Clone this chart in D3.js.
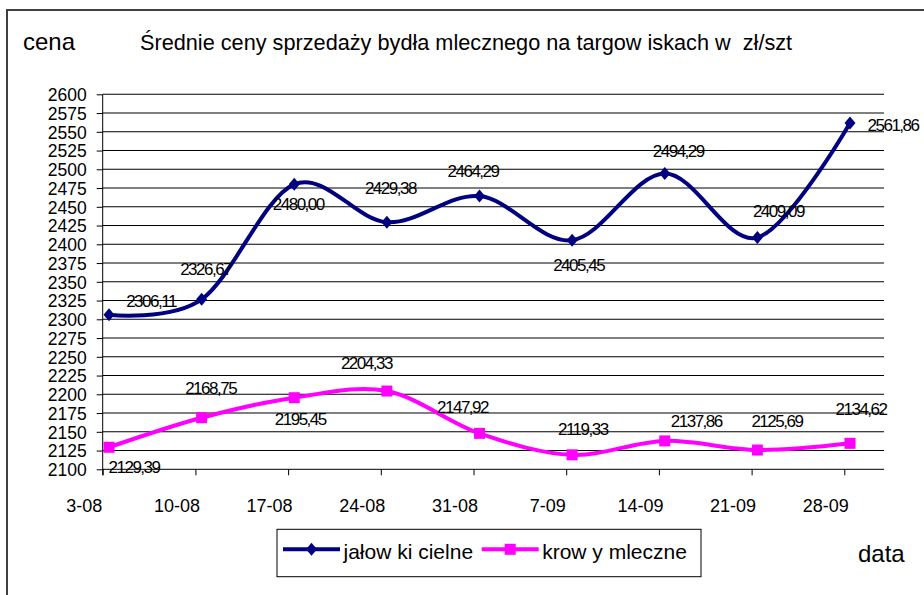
<!DOCTYPE html>
<html>
<head>
<meta charset="utf-8">
<script src="https://cdn.jsdelivr.net/npm/d3@7"></script>
<style>
	body { margin: 0; background: #fff; }
	svg { display: block; font-family: 'Liberation Sans', Arial, sans-serif; }
</style>
</head>
<body>
<svg id="chart"></svg>
<script>
const WIDTH = 924;
const HEIGHT = 595;

// dane
const categories = ['3-08', '10-08', '17-08', '24-08', '31-08', '7-09', '14-09', '21-09', '28-09'];
const jalowki = [2306.11, 2326.67, 2480.00, 2429.38, 2464.29, 2405.45, 2494.29, 2409.09, 2561.86];
const krowy = [2129.39, 2168.75, 2195.45, 2204.33, 2147.92, 2119.33, 2137.86, 2125.69, 2134.62];
const yTicks = d3.range(2100, 2601, 25);
const seriesNames = ['jałow ki cielne', 'krow y mleczne'];

// label placement (hand placed in the original, dx/dy from the point)
const jalowkiLabelNudge = [[42, -8], [4, -24], [4, 26], [3.5, -28], [-6.5, -19.5], [6.5, 30.5], [13.5, -17], [21, -20], [43, 8]];
const krowyLabelNudge = [[25, 26], [9, -24], [6, 27], [-20.5, -22], [-17, -20], [10.7, -20], [31.5, -14], [19.5, -23], [11, -28]];

const plotLeft = 102.7;
const plotRight = 884;

const svg = d3.select('#chart').attr('width', WIDTH).attr('height', HEIGHT);

// outer frame (right and bottom edges fall outside the picture)
svg.append('rect')
	.attr('x', 7)
	.attr('y', 10)
	.attr('width', 940)
	.attr('height', 620)
	.attr('fill', 'none')
	.attr('stroke', '#404040')
	.attr('stroke-width', 2);

const x = d3.scaleLinear().domain([0, categories.length - 1]).range([109, 850]);
const xTick = d3.scaleLinear().domain([0, categories.length - 1]).range([plotLeft, 844.3]);
const y = d3.scaleLinear().domain([2100, 2600]).range([469.3, 94.3]);

const comma = d3.formatLocale({ decimal: ',', thousands: '', grouping: [3], currency: ['', ''] }).format('.2f');

// gridlines
svg.append('g')
	.selectAll('line')
	.data(yTicks.filter((t) => t > 2100))
	.enter()
	.append('line')
	.attr('x1', plotLeft)
	.attr('x2', plotRight)
	.attr('y1', (d) => y(d))
	.attr('y2', (d) => y(d))
	.attr('stroke', '#000')
	.attr('stroke-width', 1.1);

// y axis
const yAxis = svg.append('g')
	.attr('transform', `translate(${plotLeft},0)`)
	.call(d3.axisLeft(y).tickValues(yTicks).tickSize(6).tickPadding(10).tickFormat(d3.format('d')));
yAxis.select('.domain').remove();
yAxis.append('line')
	.attr('x1', 0).attr('x2', 0)
	.attr('y1', y(2600)).attr('y2', y(2100) + 6)
	.attr('stroke', '#000');
yAxis.selectAll('.tick line').attr('stroke', '#000');
yAxis.selectAll('text')
	.attr('fill', '#000')
	.style('font-size', '17.5px')
	.attr('dy', '0.36em');

// x axis
const xAxis = svg.append('g')
	.attr('transform', `translate(0,${y(2100)})`)
	.call(d3.axisBottom(xTick).tickValues(d3.range(categories.length)).tickSize(6).tickSizeOuter(0).tickFormat((i) => categories[i]));
xAxis.select('.domain').remove();
xAxis.append('line')
	.attr('x1', plotLeft).attr('x2', plotRight)
	.attr('y1', 0).attr('y2', 0)
	.attr('stroke', '#000');
xAxis.selectAll('.tick line').attr('stroke', '#000');
xAxis.selectAll('text')
	.attr('fill', '#000')
	.attr('x', -19)
	.attr('y', 42.4)
	.attr('dy', null)
	.style('font-size', '18px');

const line = d3.line()
	.x((d, i) => x(i))
	.y((d) => y(d))
	.curve(d3.curveCardinal.tension(0));

const diamond = 'M0,-6.5L5.5,0L0,6.5L-5.5,0Z';

function drawSeries(values, color, marker, nudge) {
	const g = svg.append('g');
	g.append('path')
		.datum(values)
		.attr('d', line)
		.attr('fill', 'none')
		.attr('stroke', color)
		.attr('stroke-width', 4);

	if (marker === 'diamond') {
		g.selectAll('path.marker')
			.data(values)
			.enter()
			.append('path')
			.attr('class', 'marker')
			.attr('d', diamond)
			.attr('transform', (d, i) => `translate(${x(i)},${y(d)})`)
			.attr('fill', color);
	} else {
		g.selectAll('rect.marker')
			.data(values)
			.enter()
			.append('rect')
			.attr('class', 'marker')
			.attr('x', (d, i) => x(i) - 5.5)
			.attr('y', (d) => y(d) - 5.5)
			.attr('width', 11)
			.attr('height', 11)
			.attr('fill', color);
	}

	g.selectAll('text')
		.data(values)
		.enter()
		.append('text')
		.attr('x', (d, i) => x(i) + nudge[i][0])
		.attr('y', (d, i) => y(d) + nudge[i][1])
		.attr('text-anchor', 'middle')
		.style('font-size', '17px')
		.style('letter-spacing', '-1.5px')
		.text((d) => comma(d));
}

drawSeries(jalowki, '#000080', 'diamond', jalowkiLabelNudge);
drawSeries(krowy, '#FF00FF', 'square', krowyLabelNudge);

// titles
svg.append('text')
	.attr('x', 23)
	.attr('y', 50)
	.style('font-size', '24px')
	.text('cena');

svg.append('text')
	.attr('x', 140)
	.attr('y', 50)
	.style('font-size', '21.7px')
	.style('white-space', 'pre')
	.text('Średnie ceny sprzedaży bydła mlecznego na targow iskach w  zł/szt');

svg.append('text')
	.attr('x', 858)
	.attr('y', 561.7)
	.style('font-size', '24px')
	.text('data');

// legend
const legend = svg.append('g');
legend.append('rect')
	.attr('x', 277)
	.attr('y', 529.3)
	.attr('width', 424)
	.attr('height', 47.4)
	.attr('fill', '#fff')
	.attr('stroke', '#000')
	.attr('stroke-width', 1);

const legendItems = [
	{ name: seriesNames[0], color: '#000080', marker: 'diamond', x0: 283 },
	{ name: seriesNames[1], color: '#FF00FF', marker: 'square', x0: 481.7 },
];
const legendY = 549.3;
legendItems.forEach((item) => {
	legend.append('line')
		.attr('x1', item.x0)
		.attr('x2', item.x0 + 57)
		.attr('y1', legendY)
		.attr('y2', legendY)
		.attr('stroke', item.color)
		.attr('stroke-width', 4);
	if (item.marker === 'diamond') {
		legend.append('path')
			.attr('d', diamond)
			.attr('transform', `translate(${item.x0 + 28.5},${legendY})`)
			.attr('fill', item.color);
	} else {
		legend.append('rect')
			.attr('x', item.x0 + 28.5 - 5.5)
			.attr('y', legendY - 5.5)
			.attr('width', 11)
			.attr('height', 11)
			.attr('fill', item.color);
	}
	legend.append('text')
		.attr('x', item.x0 + 60.5)
		.attr('y', 559.3)
		.style('font-size', '21px')
		.text(item.name);
});
</script>
</body>
</html>
